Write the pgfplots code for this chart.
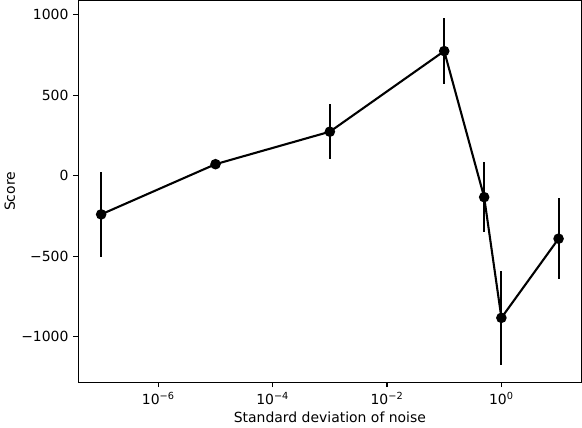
\documentclass[border=0pt]{standalone}
\usepackage{pgfplots}
\pgfplotsset{compat=1.18}
\usepackage{fontspec}
\setmainfont{DejaVu Sans}

\begin{document}
\begin{tikzpicture}
\begin{axis}[
  scale only axis, width=360.7pt, height=273.6pt,
  xmode=log, xmin=3.98e-8, xmax=25.12,
  ymin=-1283, ymax=1089,
  xtick={1e-6,1e-4,1e-2,1},
  xticklabels={10\textsuperscript{−6},10\textsuperscript{−4},10\textsuperscript{−2},10\textsuperscript{0}},
  ytick={-1000,-500,0,500,1000},
  yticklabels={−1000,−500,0,500,1000},
  xminorticks=false, yminorticks=false,
  tick align=outside, tick pos=left, major tick length=3.5pt,
  every tick/.style={line width=0.8pt, black},
  axis line style={line width=0.8pt},
  font=\fontsize{10}{12}\selectfont,
  tick label style={font=\fontsize{10}{12}\selectfont},
  xlabel={Standard deviation of noise}, ylabel={Score},
  ylabel style={yshift=-2.5pt}, xlabel style={yshift=1.5pt},
]
\addplot+[black, line width=1.5pt, mark=*, mark size=3pt,
  mark options={solid, fill=black, draw=black},
  error bars/.cd, y dir=both, y explicit, error mark=none,
  error bar style={line width=1.5pt, black}]
  coordinates {
  (1e-7,-240) +- (0,265)
  (1e-5,72) +- (0,10)
  (1e-3,274) +- (0,172)
  (1e-1,775) +- (0,206)
  (0.5,-133) +- (0,219)
  (1,-883) +- (0,292)
  (10,-391) +- (0,252)
};
\end{axis}
\end{tikzpicture}
\end{document}
